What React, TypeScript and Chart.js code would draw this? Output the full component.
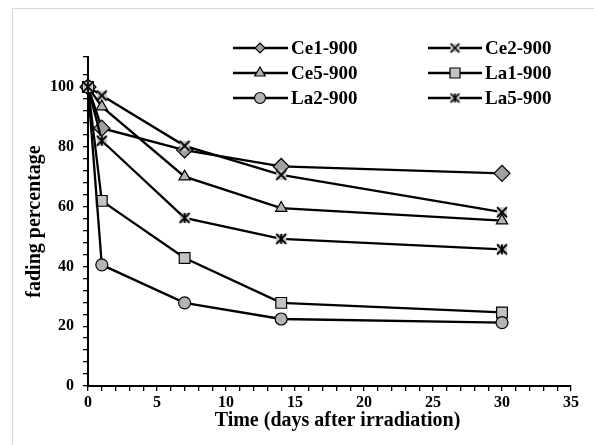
import React, { useEffect, useRef } from 'react';
import { Chart, registerables } from 'chart.js';

Chart.register(...registerables);

// ---- data ----
const days = [0, 1, 7, 14, 30];
const ce1 = [100, 86.2, 78.9, 73.4, 71.1];
const ce2 = [100, 97.1, 80.3, 70.6, 58.1];
const ce5 = [100, 93.4, 70.0, 59.5, 55.3];
const la1 = [100, 61.9, 42.8, 27.8, 24.6];
const la2 = [100, 40.5, 27.8, 22.4, 21.2];
const la5 = [100, 82.0, 56.2, 49.2, 45.7];
const seriesNames = ['Ce1-900', 'Ce2-900', 'Ce5-900', 'La1-900', 'La2-900', 'La5-900'];
const seriesValues = [ce1, ce2, ce5, la1, la2, la5];
const xTickLabels = [0, 5, 10, 15, 20, 25, 30, 35];
const yTickLabels = [0, 20, 40, 60, 80, 100];

const FONT = '"Liberation Serif", "Times New Roman", serif';

function makeMarker(kind: 'x' | 'star', size: number, fill: string, lw: number) {
  const c = document.createElement('canvas');
  const s = size + 4;
  c.width = s;
  c.height = s;
  const ctx = c.getContext('2d') as CanvasRenderingContext2D;
  const o = 2;
  ctx.fillStyle = fill;
  ctx.fillRect(o, o, size, size);
  ctx.strokeStyle = '#000';
  ctx.lineWidth = lw;
  ctx.beginPath();
  ctx.moveTo(o, o);
  ctx.lineTo(o + size, o + size);
  ctx.moveTo(o + size, o);
  ctx.lineTo(o, o + size);
  if (kind === 'star') {
    ctx.moveTo(o + size / 2, o);
    ctx.lineTo(o + size / 2, o + size);
  }
  ctx.stroke();
  return c;
}

function drawShape(ctx: CanvasRenderingContext2D, style: any, x: number, y: number, r: number, fill: string) {
  if (style && typeof style === 'object') {
    ctx.drawImage(style, x - style.width / 2, y - style.height / 2);
    return;
  }
  ctx.save();
  ctx.fillStyle = fill;
  ctx.strokeStyle = '#000';
  ctx.lineWidth = 1.2;
  ctx.beginPath();
  if (style === 'rectRot') {
    ctx.moveTo(x, y - r);
    ctx.lineTo(x + r, y);
    ctx.lineTo(x, y + r);
    ctx.lineTo(x - r, y);
    ctx.closePath();
  } else if (style === 'triangle') {
    ctx.moveTo(x, y - r);
    ctx.lineTo(x + r * 0.866, y + r * 0.5);
    ctx.lineTo(x - r * 0.866, y + r * 0.5);
    ctx.closePath();
  } else if (style === 'rect') {
    ctx.rect(x - r, y - r, 2 * r, 2 * r);
  } else {
    ctx.arc(x, y, r, 0, Math.PI * 2);
  }
  ctx.fill();
  ctx.stroke();
  ctx.restore();
}

export default function App() {
  const ref = useRef<HTMLCanvasElement | null>(null);

  useEffect(() => {
    if (!ref.current) return;
    const xImg = makeMarker('x', 10, '#cccccc', 1.8);
    const starImg = makeMarker('star', 10, '#cccccc', 1.8);
    const xImgL = makeMarker('x', 9, '#cccccc', 1.6);
    const starImgL = makeMarker('star', 9, '#cccccc', 1.6);

    const styles: any[] = [
      { ps: 'rectRot', r: 8, bg: '#a0a0a0', lps: 'rectRot', lr: 5 },
      { ps: xImg, r: 6, bg: '#cccccc', lps: xImgL, lr: 5 },
      { ps: 'triangle', r: 6.5, bg: '#b4b4b4', lps: 'triangle', lr: 6 },
      { ps: 'rect', r: 7.6, bg: '#c4c4c4', lps: 'rect', lr: 5 },
      { ps: 'circle', r: 6, bg: '#b4b4b4', lps: 'circle', lr: 5.5 },
      { ps: starImg, r: 6, bg: '#cccccc', lps: starImgL, lr: 5 },
    ];

    const datasets = seriesNames.map((name, i) => ({
      label: name,
      data: days.map((d, j) => ({ x: d, y: seriesValues[i][j] })),
      borderColor: '#000',
      borderWidth: 2.3,
      backgroundColor: styles[i].bg,
      pointStyle: styles[i].ps,
      pointRadius: styles[i].r,
      pointBackgroundColor: styles[i].bg,
      pointBorderColor: '#000',
      pointBorderWidth: 1.2,
      tension: 0,
      clip: false as any,
      order: seriesNames.length - i,
    }));

    const legendPlugin = {
      id: 'excelLegend',
      afterDraw(chart: any) {
        const ctx = chart.ctx as CanvasRenderingContext2D;
        const cols = [
          { l0: 233, l1: 288, m: 260, t: 291 },
          { l0: 428, l1: 482, m: 455, t: 485 },
        ];
        const rows = [48, 73, 98];
        seriesNames.forEach((name, i) => {
          const c = cols[i % 2];
          const y = rows[Math.floor(i / 2)];
          ctx.save();
          ctx.strokeStyle = '#000';
          ctx.lineWidth = 2.3;
          ctx.beginPath();
          ctx.moveTo(c.l0, y);
          ctx.lineTo(c.l1, y);
          ctx.stroke();
          drawShape(ctx, styles[i].lps, c.m, y, styles[i].lr, styles[i].bg);
          ctx.fillStyle = '#000';
          ctx.font = `bold 19px ${FONT}`;
          ctx.textAlign = 'left';
          ctx.textBaseline = 'middle';
          ctx.fillText(name, c.t, y + 1);
          ctx.restore();
        });
      },
    };

    const chart = new Chart(ref.current, {
      type: 'line',
      data: { datasets },
      options: {
        animation: false,
        responsive: false,
        devicePixelRatio: 1,
        layout: { padding: { top: 57, right: 23, left: 0, bottom: 0 } },
        plugins: { legend: { display: false }, tooltip: { enabled: false } },
        scales: {
          x: {
            type: 'linear',
            min: 0,
            max: 35,
            afterFit: (s: any) => {
              s.height = 59;
              s.paddingLeft = 0;
              s.paddingRight = 0;
              if (!s._titleShifted) {
                const orig = s.drawTitle.bind(s);
                s.drawTitle = (...args: any[]) => {
                  s.ctx.save();
                  s.ctx.translate(8, 0);
                  orig(...args);
                  s.ctx.restore();
                };
                s._titleShifted = true;
              }
            },
            ticks: {
              stepSize: 1,
              autoSkip: false,
              maxRotation: 0,
              padding: 2,
              color: '#000',
              font: { family: FONT, size: 16, weight: 'bold' },
              callback: (v: any) => (xTickLabels.includes(Number(v)) ? String(v) : ''),
            },
            grid: { display: true, drawOnChartArea: false, drawTicks: true, tickLength: 5, color: '#000', lineWidth: 1.3 },
            border: { display: true, color: '#000', width: 2 },
            title: {
              display: true,
              text: 'Time (days after irradiation)',
              color: '#000',
              font: { family: FONT, size: 20, weight: 'bold' },
              padding: { top: 0, bottom: 12 },
            },
          },
          y: {
            type: 'linear',
            min: 0,
            max: 110,
            afterFit: (s: any) => {
              s.width = 88;
              s.paddingTop = 0;
              s.paddingBottom = 0;
            },
            ticks: {
              stepSize: 4,
              autoSkip: false,
              padding: 9,
              color: '#000',
              font: { family: FONT, size: 16, weight: 'bold' },
              callback: (v: any) => (yTickLabels.includes(Number(v)) ? String(v) : ''),
            },
            grid: { display: true, drawOnChartArea: false, drawTicks: true, tickLength: 5, color: '#000', lineWidth: 1.3 },
            border: { display: true, color: '#000', width: 2 },
            title: {
              display: true,
              text: 'fading percentage',
              color: '#000',
              font: { family: FONT, size: 20, weight: 'bold' },
              padding: { top: 23, bottom: 0 },
            },
          },
        },
      } as any,
      plugins: [legendPlugin],
    });
    return () => chart.destroy();
  }, []);

  return (
    <div style={{ position: 'absolute', left: 0, top: 0, width: 594, height: 445, overflow: 'hidden', background: '#fff' }}>
      <div
        style={{
          position: 'absolute',
          left: 12,
          top: 8,
          width: 640,
          height: 500,
          border: '1px solid #d9d9d9',
        }}
      />
      <canvas ref={ref} width={594} height={445} style={{ position: 'absolute', left: 0, top: 0, width: 594, height: 445 }} />
    </div>
  );
}
